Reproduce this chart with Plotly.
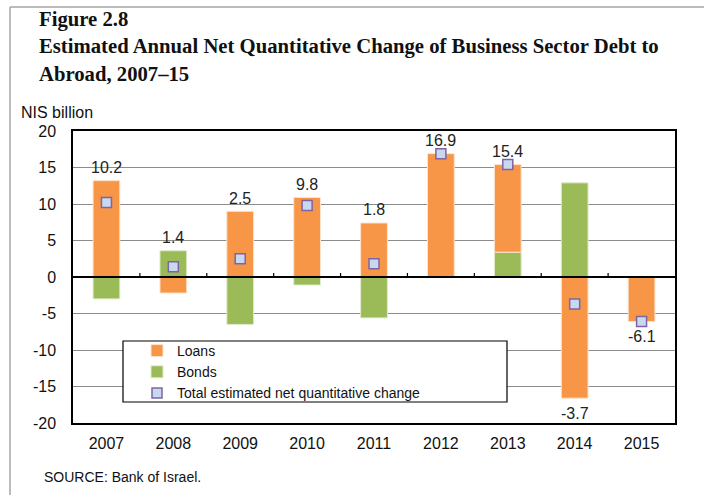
import plotly.graph_objects as go

# Annual net quantitative change of business-sector debt to abroad (NIS billion)
years = ["2007", "2008", "2009", "2010", "2011", "2012", "2013", "2014", "2015"]
loans = [13.2, -2.2, 9.0, 10.9, 7.4, 16.9, 12.0, -16.6, -6.1]
bonds = [-3.0, 3.6, -6.5, -1.1, -5.6, 0.0, 3.4, 12.9, 0.0]
total = [10.2, 1.4, 2.5, 9.8, 1.8, 16.9, 15.4, -3.7, -6.1]
y_ticks = [20, 15, 10, 5, 0, -5, -10, -15, -20]

W, H = 704, 495
L, R, T, B = 73, 29, 131, 72
PW, PH = W - L - R, H - T - B


def px(x):
    return (x - L) / PW


def py(y):
    return (H - B - y) / PH


ORANGE = "#f79646"
GREEN = "#9bbb59"
FONT = "Liberation Sans"

fig = go.Figure()
# bonds first so they sit next to the zero line, loans stacked outside them
fig.add_trace(go.Bar(x=years, y=bonds, name="Bonds", legendrank=2,
                     marker=dict(color=GREEN, line=dict(color="#e1ebcd", width=1)), width=0.4))
fig.add_trace(go.Bar(x=years, y=loans, name="Loans", legendrank=1,
                     marker=dict(color=ORANGE, line=dict(color="#fde3cf", width=1)), width=0.4))
fig.add_trace(go.Scatter(
    x=years, y=total, mode="markers", name="Total estimated net quantitative change", legendrank=3,
    marker=dict(symbol="square", size=10, color="#c6d9f1", line=dict(color="#8064a2", width=1.5)),
))

# value labels: above the stack for positive totals, below for negative ones
for i, (lo, bo, tot) in enumerate(zip(loans, bonds, total)):
    pos = max(lo, 0) + max(bo, 0)
    neg = min(lo, 0) + min(bo, 0)
    if tot >= 0:
        fig.add_annotation(x=i, y=pos, text=f"{tot:.1f}", showarrow=False, yanchor="middle", yshift=13,
                           font=dict(family=FONT, size=16, color="#222"))
    else:
        fig.add_annotation(x=i, y=neg, text=f"{tot:.1f}", showarrow=False, yanchor="middle", yshift=-15,
                           font=dict(family=FONT, size=16, color="#222"))

shapes = []
# small category-boundary ticks on the zero line
for i in range(len(years) - 1):
    shapes.append(dict(type="line", xref="x", yref="y", x0=i + 0.5, x1=i + 0.5, y0=0, y1=0.55,
                       line=dict(color="black", width=1.2)))
# zero line
shapes.append(dict(type="line", xref="paper", yref="y", x0=0, x1=1, y0=0, y1=0, line=dict(color="black", width=2.2)))
# legend frame
shapes.append(dict(type="rect", xref="paper", yref="paper", x0=px(123), x1=px(507), y0=py(402), y1=py(341),
                   fillcolor="white", line=dict(color="black", width=1.2), layer="above"))
# outer figure frame
shapes.append(dict(type="line", xref="paper", yref="paper", x0=px(10), x1=px(10), y0=py(7), y1=py(H),
                   line=dict(color="#a6a6a6", width=1.5)))
shapes.append(dict(type="line", xref="paper", yref="paper", x0=px(10), x1=px(W), y0=py(7), y1=py(7),
                   line=dict(color="#a6a6a6", width=1.5)))

title_lines = [
    ("Figure 2.8", 19),
    ("Estimated Annual Net Quantitative Change of Business Sector Debt to", 47),
    ("Abroad, 2007–15", 74),
]
for txt, yc in title_lines:
    fig.add_annotation(xref="paper", yref="paper", x=px(37), y=py(yc), text=f"<b>{txt}</b>", showarrow=False,
                       xanchor="left", yanchor="middle", font=dict(family="Liberation Serif", size=20.7, color="#111"))

fig.add_annotation(xref="paper", yref="paper", x=px(19), y=py(112), text="NIS billion", showarrow=False,
                   xanchor="left", yanchor="middle", font=dict(family=FONT, size=16, color="#111"))
fig.add_annotation(xref="paper", yref="paper", x=px(42), y=py(477), text="SOURCE: Bank of Israel.", showarrow=False,
                   xanchor="left", yanchor="middle", font=dict(family=FONT, size=14, color="#111"))

fig.update_layout(
    width=W, height=H,
    margin=dict(l=L, r=R, t=T, b=B),
    barmode="relative",
    plot_bgcolor="white", paper_bgcolor="white",
    font=dict(family=FONT, size=16, color="#111"),
    shapes=shapes,
    showlegend=True,
    legend=dict(x=px(137), y=py(335), xanchor="left", yanchor="top", bgcolor="rgba(0,0,0,0)",
                borderwidth=0, font=dict(family=FONT, size=14, color="#111"), itemwidth=30,
                tracegroupgap=0, traceorder="normal"),
)
fig.update_xaxes(type="category", range=[-0.5, len(years) - 0.5], showgrid=False, showline=True,
                 linecolor="black", linewidth=1.5, mirror=True,
                 ticks="", tickfont=dict(size=16), ticklabelstandoff=5)
fig.update_yaxes(range=[-20, 20], tickvals=y_ticks, ticktext=[str(v) for v in y_ticks],
                 showgrid=True, gridcolor="#8c8c8c", gridwidth=1,
                 zeroline=False, showline=True, linecolor="black", linewidth=1.5, mirror=True,
                 ticks="", tickfont=dict(size=16), ticklabelstandoff=12)

fig.write_html("out.html")
